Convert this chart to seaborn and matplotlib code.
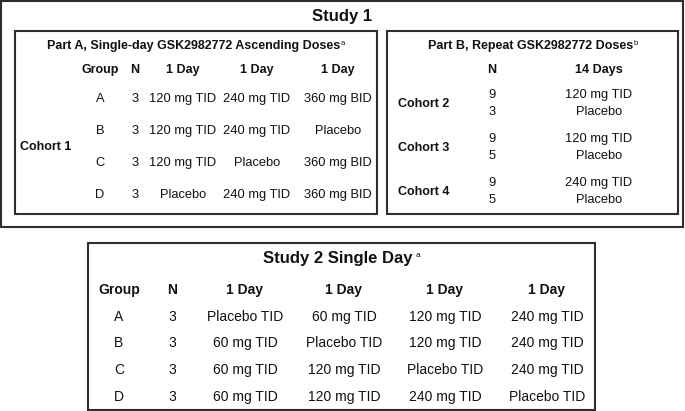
import matplotlib

matplotlib.use("Agg")

import matplotlib.pyplot as plt
import seaborn as sns
from matplotlib.patches import Rectangle

# ---- table contents ----
study1_title = "Study 1"
part_a_title = "Part A, Single-day GSK2982772 Ascending Doses"
part_a_headers = ["Group", "N", "1 Day", "1 Day", "1 Day"]
part_a_cohort = "Cohort 1"
part_a_groups = ["A", "B", "C", "D"]
part_a_n = [3, 3, 3, 3]
part_a_day1 = ["120 mg TID", "120 mg TID", "120 mg TID", "Placebo"]
part_a_day2 = ["240 mg TID", "240 mg TID", "Placebo", "240 mg TID"]
part_a_day3 = ["360 mg BID", "Placebo", "360 mg BID", "360 mg BID"]

part_b_title = "Part B, Repeat GSK2982772 Doses"
part_b_headers = ["N", "14 Days"]
part_b_cohorts = ["Cohort 2", "Cohort 3", "Cohort 4"]
part_b_n_active = [9, 9, 9]
part_b_n_placebo = [3, 5, 5]
part_b_dose = ["120 mg TID", "120 mg TID", "240 mg TID"]
part_b_placebo = ["Placebo", "Placebo", "Placebo"]

study2_title = "Study 2 Single Day"
study2_headers = ["Group", "N", "1 Day", "1 Day", "1 Day", "1 Day"]
study2_groups = ["A", "B", "C", "D"]
study2_n = [3, 3, 3, 3]
study2_day1 = ["Placebo TID", "60 mg TID", "60 mg TID", "60 mg TID"]
study2_day2 = ["60 mg TID", "Placebo TID", "120 mg TID", "120 mg TID"]
study2_day3 = ["120 mg TID", "120 mg TID", "Placebo TID", "240 mg TID"]
study2_day4 = ["240 mg TID", "240 mg TID", "240 mg TID", "Placebo TID"]

sns.set_theme(style="white")
plt.rcParams["font.family"] = ["Liberation Sans", "DejaVu Sans"]

W, H = 685, 411
fig = plt.figure(figsize=(W / 100, H / 100), dpi=100)
ax = fig.add_axes([0, 0, 1, 1])
ax.set_xlim(0, W)
ax.set_ylim(H, 0)
ax.axis("off")

LINE = "#2e2e2e"


def box(x0, y0, x1, y1):
    ax.add_patch(Rectangle((x0, y0), x1 - x0, y1 - y0, fill=False,
                           edgecolor=LINE, linewidth=1.5))


def txt(x, y, s, size=9, bold=False, ha="center"):
    return ax.text(x, y, str(s), fontsize=size, fontweight="bold" if bold else "normal",
                   ha=ha, va="center", color="#111111")


def title_sup(cx, y, main, sup, size, sup_size, gap, rise):
    t = txt(cx, y, main, size, True)
    s = ax.text(cx, y - rise, sup, fontsize=sup_size, ha="left", va="center", color="#111111")
    r = fig.canvas.get_renderer()
    mw = t.get_window_extent(r).width
    sw = s.get_window_extent(r).width
    shift = (gap + sw) / 2
    t.set_x(cx - shift)
    s.set_x(cx - shift + mw / 2 + gap)


# boxes
box(1, 1, 683, 227)
box(15, 31, 377, 214)
box(387, 31, 678, 214)
box(88, 243, 595, 410)

# Study 1
txt(342, 16, study1_title, 12, True)

# Part A
title_sup(196, 46, part_a_title, "a", 9, 5.5, 0.5, 2.5)
a_cols = [100, 135, 183, 257, 338]
for x, h in zip(a_cols, part_a_headers):
    txt(x, 70, h, 9, True)
a_rows = [99, 131, 163, 195]
for i, y in enumerate(a_rows):
    vals = [part_a_groups[i], part_a_n[i], part_a_day1[i], part_a_day2[i], part_a_day3[i]]
    for x, v in zip(a_cols, vals):
        txt(x, y, v, 9.3)
txt(20, (a_rows[1] + a_rows[2]) / 2, part_a_cohort, 9, True, ha="left")

# Part B
title_sup(533, 46, part_b_title, "b", 9, 5.5, 0.5, 2.5)
b_cols = [492, 599]
for x, h in zip(b_cols, part_b_headers):
    txt(x, 70, h, 9, True)
b_rows = [95, 139, 183]
for i, y in enumerate(b_rows):
    txt(398, y + 8.5, part_b_cohorts[i], 9, True, ha="left")
    txt(b_cols[0], y, part_b_n_active[i], 9.3)
    txt(b_cols[0], y + 17, part_b_n_placebo[i], 9.3)
    txt(b_cols[1], y, part_b_dose[i], 9.3)
    txt(b_cols[1], y + 17, part_b_placebo[i], 9.3)

# Study 2
title_sup(341.5, 258, study2_title, "a", 12, 6, 3, 3)
s2_cols = [119, 172, 245, 344, 445, 547]
for x, h in zip(s2_cols, study2_headers):
    txt(x, 290, h, 10, True)
s2_rows = [317, 343, 370, 397]
for i, y in enumerate(s2_rows):
    vals = [study2_groups[i], study2_n[i], study2_day1[i], study2_day2[i],
            study2_day3[i], study2_day4[i]]
    for x, v in zip(s2_cols, vals):
        txt(x, y, v, 10)

fig.savefig("out.png", dpi=100, facecolor="white")
